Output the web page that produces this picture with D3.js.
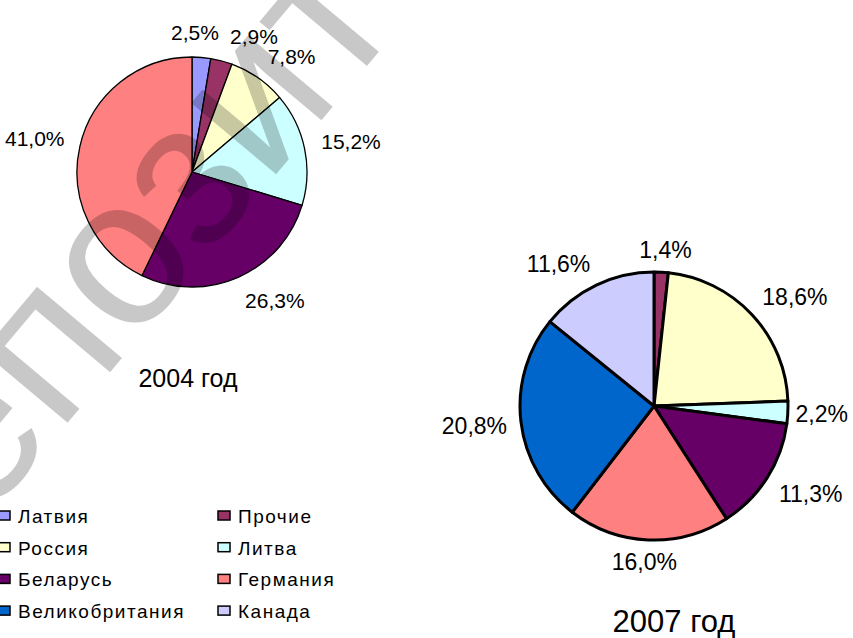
<!DOCTYPE html>
<html>
<head>
<meta charset="utf-8">
<script src="https://cdn.jsdelivr.net/npm/d3@7"></script>
<style>
  body { margin: 0; background: #fff; }
  text { font-family: "Liberation Sans", Arial, sans-serif; fill: #000; }
</style>
</head>
<body>
<div id="chartDiv"></div>
<script>
// data
var categories = ["Латвия", "Прочие", "Россия", "Литва", "Беларусь", "Германия", "Великобритания", "Канада"];
var colors = ["#9999ff", "#993366", "#ffffcc", "#ccffff", "#660066", "#ff8080", "#0066cc", "#ccccff"];
var values2004 = [2.5, 2.9, 7.8, 15.2, 26.3, 41.0, 0, 0];
var values2007 = [0, 1.4, 18.6, 2.2, 11.3, 16.0, 20.8, 11.6];
var titles = ["2004 год", "2007 год"];

var W = 853, H = 638;

var svg = d3.select("#chartDiv").append("svg")
  .attr("width", W)
  .attr("height", H);

var fmt = function (v) { return v.toFixed(1).replace(".", ",") + "%"; };

var pie = d3.pie().sort(null).value(function (d) { return d.v; });

var clamp1 = function (v) { return Math.max(-1, Math.min(1, v)); };

// one pie with excel-like outside labels
function drawPie(values, cx, cy, r, strokeW, labelSize, labelGap) {
  var rows = values.map(function (v, i) { return { v: v, i: i }; });
  var arcs = pie(rows).filter(function (a) { return a.data.v > 0; });
  var arc = d3.arc().innerRadius(0).outerRadius(r);
  var g = svg.append("g").attr("transform", "translate(" + cx + "," + cy + ")");

  g.selectAll("path.slice")
    .data(arcs)
    .enter().append("path")
    .attr("class", "slice")
    .attr("d", arc)
    .style("fill", function (d) { return colors[d.data.i]; })
    .style("stroke", "#000")
    .style("stroke-width", strokeW)
    .style("stroke-linejoin", "round");

  var labels = g.selectAll("text.lbl")
    .data(arcs)
    .enter().append("text")
    .attr("class", "lbl")
    .style("font-size", labelSize + "px")
    .attr("text-anchor", "middle")
    .text(function (d) { return fmt(d.data.v); });

  // label box sits just outside the rim, pushed away from the centre
  var capH = labelSize * 0.716;
  var R = r + labelGap;
  var boxes = [];
  labels.each(function (d) {
    var w = this.getComputedTextLength();
    var t = (d.startAngle + d.endAngle) / 2;
    var s = Math.sin(t), c = Math.cos(t);
    boxes.push({
      node: this, w: w,
      x: R * s + w / 2 * clamp1(s * 2.5),
      y: -R * c - capH / 2 * clamp1(c * 2.5)
    });
  });

  // push overlapping labels apart sideways
  var gap = 11;
  for (var k = 0; k < 20; k++) {
    for (var a = 0; a < boxes.length; a++) {
      for (var b = a + 1; b < boxes.length; b++) {
        var A = boxes[a], B = boxes[b];
        if (Math.abs(A.y - B.y) > capH + 4) continue;
        var need = (A.w + B.w) / 2 + gap;
        var dx = B.x - A.x;
        if (Math.abs(dx) < need) {
          var push = (need - Math.abs(dx)) / 2;
          var sgn = dx >= 0 ? 1 : -1;
          A.x -= push * sgn;
          B.x += push * sgn;
        }
      }
    }
  }
  boxes.forEach(function (bx) {
    // keep inside the picture
    var maxX = W - 5 - cx - bx.w / 2;
    var minX = 5 - cx + bx.w / 2;
    bx.x = Math.max(minX, Math.min(maxX, bx.x));
    d3.select(bx.node).attr("x", bx.x).attr("y", bx.y + capH / 2);
  });
}

drawPie(values2004, 192, 172, 115, 1.3, 21, 17);
drawPie(values2007, 654, 406, 134, 3, 23, 14);

svg.append("text")
  .attr("x", 188).attr("y", 387)
  .attr("text-anchor", "middle")
  .style("font-size", "25px")
  .text(titles[0]);

svg.append("text")
  .attr("x", 674).attr("y", 632)
  .attr("text-anchor", "middle")
  .style("font-size", "31px")
  .text(titles[1]);

// legend, two columns
var legend = svg.append("g").attr("class", "legend");
var colX = [-2, 218], rowY0 = 511, rowStep = 31.7;
categories.forEach(function (name, i) {
  var col = i % 2, row = Math.floor(i / 2);
  var lx = colX[col], ly = rowY0 + row * rowStep;
  legend.append("rect")
    .attr("x", lx).attr("y", ly)
    .attr("width", 12).attr("height", 9)
    .style("fill", colors[i])
    .style("stroke", "#000")
    .style("stroke-width", 1.5);
  legend.append("text")
    .attr("x", lx + 20).attr("y", ly + 12)
    .style("font-size", "19px")
    .style("letter-spacing", "1.5px")
    .text(name);
});

// watermark
svg.append("text")
  .attr("transform", "translate(-92,613) rotate(-50)")
  .style("font-size", "210px")
  .style("fill", "#000")
  .style("fill-opacity", 0.216)
  .text("репозиторий");
</script>
</body>
</html>
